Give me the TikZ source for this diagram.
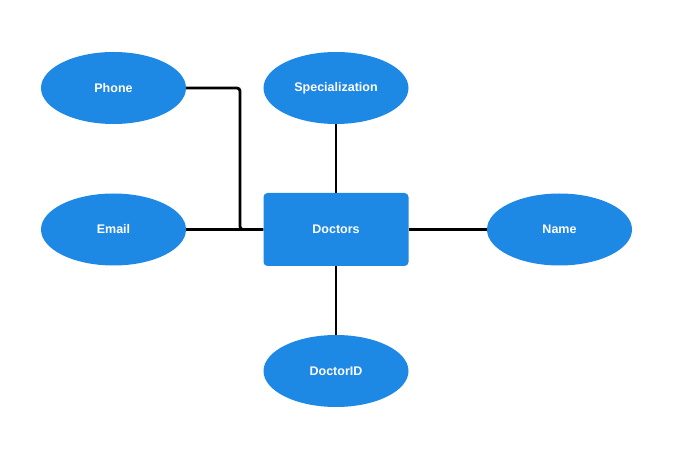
\documentclass[tikz,border=0pt]{standalone}
\usepackage{fontspec}
\setmainfont{Liberation Sans}
\usetikzlibrary{positioning,shapes.geometric}
\definecolor{erblue}{HTML}{1E88E5}

\begin{document}
\begin{tikzpicture}[x=1bp, y=-1bp,
		attr/.style={ellipse, fill=erblue, minimum width=145bp, minimum height=72bp, inner sep=0pt, text=white, font=\fontsize{12.5bp}{15bp}\selectfont\bfseries},
		entity/.style={rectangle, rounded corners=4bp, fill=erblue, minimum width=145bp, minimum height=73bp, inner sep=0pt, text=white, font=\fontsize{12.5bp}{15bp}\selectfont\bfseries},
		link/.style={line width=2.8bp, black}]
		\useasboundingbox (0,0) rectangle (679,449);
		\node [entity] (D) at (336,229.5) {Doctors};
		\node [attr] (P) at (113.5,88) {Phone};
		\node [attr] (S) at (336,88) {Specialization};
		\node [attr] (E) at (113.5,229.5) {Email};
		\node [attr] (N) at (559.5,229.5) {Name};
		\node [attr] (I) at (336,371) {DoctorID};

		\draw [link, rounded corners=3bp] (P.east) -- (240,88) -- (240,229.5) -- (D.west);
		\draw [link] (E) -- (D);
		\draw [link] (S) -- (D);
		\draw [link] (D) -- (N);
		\draw [link] (D) -- (I);
	\end{tikzpicture}
\end{document}
